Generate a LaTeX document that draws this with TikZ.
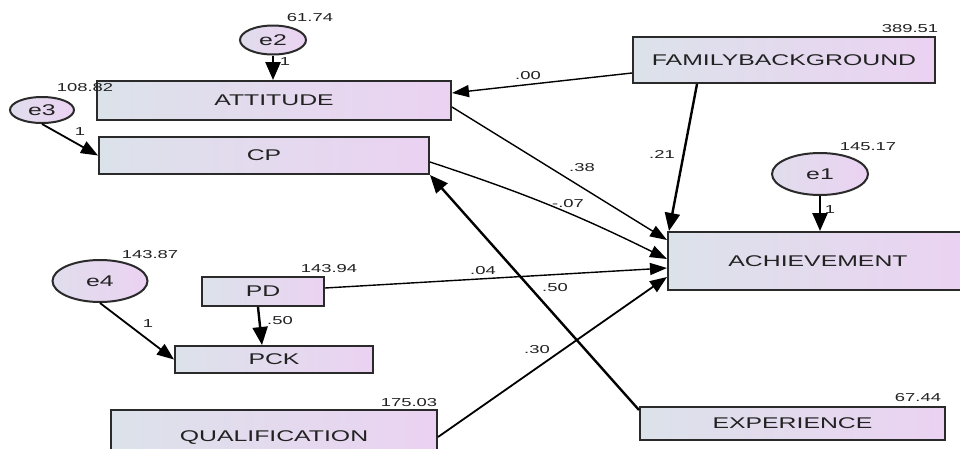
\documentclass[tikz,border=0pt]{standalone}
\usepackage{fontspec}
\setmainfont{Liberation Sans}[FakeStretch=1.6]
\usetikzlibrary{arrows.meta,shapes.geometric,calc}
\definecolor{boxL}{HTML}{DCE2EA}
\definecolor{boxR}{HTML}{EBD2F2}
\definecolor{edgeC}{HTML}{2A2A2A}
\definecolor{txt}{HTML}{222222}
\begin{document}
\begin{tikzpicture}[x=1pt,y=-1pt,
  var/.style 2 args={draw=edgeC, line width=2pt, left color=boxL, right color=boxR,
    minimum width=#1, minimum height=#2, inner sep=0pt, text=txt,
    font=\fontsize{15.5}{15.5}\selectfont},
  err/.style 2 args={ellipse, draw=edgeC, line width=2pt, left color=boxL!70!boxR, right color=boxR,
    minimum width=#1, minimum height=#2, inner sep=0pt, text=txt,
    font=\fontsize{15.5}{15.5}\selectfont},
  num/.style={text=txt, inner sep=0pt, font=\fontsize{11.5}{11.5}\selectfont},
  thinpath/.style={draw=black, line width=1.4pt, arrows={-Triangle[length=17pt,width=12pt]}},
  midpath/.style={draw=black, line width=1.8pt, arrows={-Triangle[length=17pt,width=13pt]}},
  thickpath/.style={draw=black, line width=2.4pt, arrows={-Triangle[length=18pt,width=15pt]}}
]
\clip (0,0) rectangle (960,448);
\fill[white] (0,0) rectangle (960,448);

% observed variables
\node[var={354}{39}] (att) at (274,100.5) {ATTITUDE};
\node[var={330}{37}] (cp) at (264,155.5) {CP};
\node[var={302}{46}] (fb) at (784,60) {FAMILYBACKGROUND};
\node[var={300}{58}] (ach) at (818,261) {ACHIEVEMENT};
\node[var={305}{33}] (exp) at (792.5,423.5) {EXPERIENCE};
\node[var={122}{29}] (pd) at (263,291.5) {PD};
\node[var={198}{27}] (pck) at (274,359.5) {PCK};
\node[var={326}{56}] (qual) at (274,438) {QUALIFICATION};

% error terms
\node[err={66}{29}] (e2) at (273,40) {e2};
\node[err={64}{26}] (e3) at (42,110) {e3};
\node[err={96}{42}] (e1) at (820,174) {e1};
\node[err={95}{42}] (e4) at (100,281) {e4};

% variances
\node[num] (v2) at (310,18) {61.74};
\node[num] (v3) at (85,88) {108.82};
\node[num] (vfb) at (910,29) {389.51};
\node[num] (v1) at (868,147) {145.17};
\node[num] (v4) at (150,255) {143.87};
\node[num] (vpd) at (329,269) {143.94};
\node[num] (vq) at (409,403) {175.03};
\node[num] (vexp) at (918,398) {67.44};

% paths
\draw[thickpath] (e2.south) -- (e2.south |- att.north);
\draw[midpath] (e3.south) -- (cp.west);
\draw[thinpath] ($(fb.west)+(0,13)$) -- ($(att.east)+(0,-7.5)$);
\draw[thickpath] ($(fb.south)+(-87,0)$) -- ($(ach.north west)+(2,0)$);
\draw[thickpath] (e1.south) -- (e1.south |- ach.north);
\draw[thinpath] ($(att.east)+(0,6.5)$) -- ($(ach.west)+(0,-21)$);
\draw[thinpath] ($(cp.east)+(0,6.5)$) to[bend left=4] ($(ach.west)+(0,-2)$);
\draw[thinpath] ($(pd.east)+(0,-3.5)$) -- ($(ach.west)+(0,7)$);
\draw[midpath] ($(qual.east)+(0,-1)$) -- ($(ach.west)+(0,16)$);
\draw[thickpath] ($(exp.north west)+(0,4)$) -- (cp.south east);
\draw[thickpath] ($(pd.south)+(-5,0)$) -- ($(pck.north)+(-12,0)$);
\draw[midpath] (e4.south) -- (pck.west);

% path labels
\node[num] (l2) at (285,62) {1};
\node[num] (l3) at (80,132) {1};
\node[num] (l1) at (830,210) {1};
\node[num] (l4) at (148,324) {1};
\node[num] (lpd) at (280,321) {.50};
\node[num] (lfa) at (528,76) {.00};
\node[num] (lfb) at (662,154) {.21};
\node[num] (lat) at (582,168) {.38};
\node[num] (lcp) at (568,204) {-.07};
\node[num] (lpa) at (483,271) {.04};
\node[num] (lex) at (555,288) {.50};
\node[num] (lq) at (537,350) {.30};
\end{tikzpicture}
\end{document}
